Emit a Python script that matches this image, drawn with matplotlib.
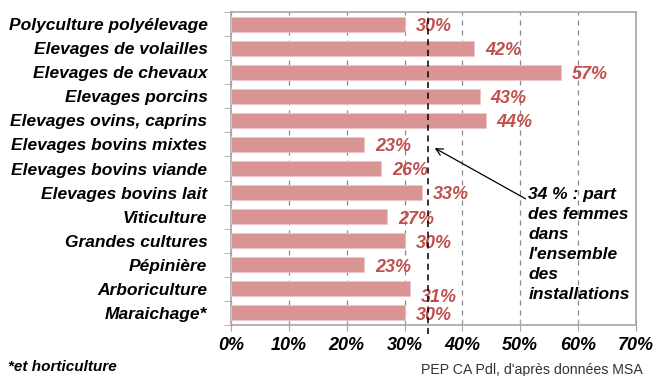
import matplotlib
matplotlib.use('Agg')
import matplotlib.pyplot as plt
import numpy as np

plt.rcParams.update({
    'font.family': ['Liberation Sans', 'DejaVu Sans'],
    'font.size': 11,
})

categories = ['Polyculture polyélevage', 'Elevages de volailles', 'Elevages de chevaux',
              'Elevages porcins', 'Elevages ovins, caprins', 'Elevages bovins mixtes',
              'Elevages bovins viande', 'Elevages bovins lait', 'Viticulture',
              'Grandes cultures', 'Pépinière', 'Arboriculture', 'Maraichage*']
values = [30, 42, 57, 43, 44, 23, 26, 33, 27, 30, 23, 31, 30]
labels = ['30%', '42%', '57%', '43%', '44%', '23%', '26%', '33%', '27%',
          '30%', '23%', '31%', '30%']
ref_share = 34
x_ticks = [0, 10, 20, 30, 40, 50, 60, 70]

fig = plt.figure(figsize=(6.56, 3.76), dpi=100)
ax = fig.add_axes([231 / 656, 1 - 325 / 376, 405 / 656, 313 / 376])

c_bar = '#D99594'
c_lab = '#C0504D'
c_axis = '#A6A6A6'

y = np.arange(len(categories))
ax.barh(y, values, height=0.62, color=c_bar, edgecolor='#EDC6C5', linewidth=0.6, zorder=3)

for i, (v, lab) in enumerate(zip(values, labels)):
    dy = 0.35 if categories[i] == 'Arboriculture' else 0.1
    ax.text(v + 1.9, i + dy, lab, ha='left', va='center', fontsize=13,
            fontweight='bold', fontstyle='italic', color=c_lab, zorder=4)

ax.set_ylim(len(categories) - 0.5, -0.5)
ax.set_xlim(0, 70)
ax.set_yticks(y)
ax.set_yticklabels(categories, fontweight='bold', fontstyle='italic', fontsize=12.5)
ax.set_yticks(np.arange(-0.5, len(categories), 1), minor=True)
ax.tick_params(axis='y', which='major', length=0, pad=17)
ax.tick_params(axis='y', which='minor', length=5, color=c_axis)
ax.set_xticks(x_ticks)
ax.set_xticklabels([f'{t}%' for t in x_ticks], fontweight='bold', fontstyle='italic',
                   fontsize=13)
ax.tick_params(axis='x', length=8, direction='inout', color=c_axis, pad=5)

ax.xaxis.grid(True, linestyle=(0, (4, 4)), linewidth=0.9, color='#888888', zorder=1)
ax.set_axisbelow(True)
for s in ax.spines.values():
    s.set_color(c_axis)
    s.set_linewidth(1.2)

ax.axvline(ref_share, ymin=-0.03, ymax=1, color='black', linestyle=(0, (4, 3)),
           linewidth=1.1, zorder=5, clip_on=False)

ax.annotate("34 % : part\ndes femmes\ndans\nl'ensemble\ndes\ninstallations",
            xy=(35.2, 5.15), xytext=(51.4, 6.75),
            ha='left', va='top', fontsize=12.5, fontweight='bold', fontstyle='italic',
            linespacing=1.42,
            arrowprops=dict(arrowstyle='->', color='black', linewidth=0.9,
                            shrinkA=0, shrinkB=0, relpos=(0, 0.88)), zorder=6)

fig.text(8 / 656, 1 - 367 / 376, '*et horticulture', fontsize=11,
         fontweight='bold', fontstyle='italic', va='center', ha='left')
fig.text(421 / 656, 1 - 370 / 376, "PEP CA Pdl, d'après données MSA", fontsize=10.2,
         va='center', ha='left', color='#333333')

fig.savefig('out.png', dpi=100)
